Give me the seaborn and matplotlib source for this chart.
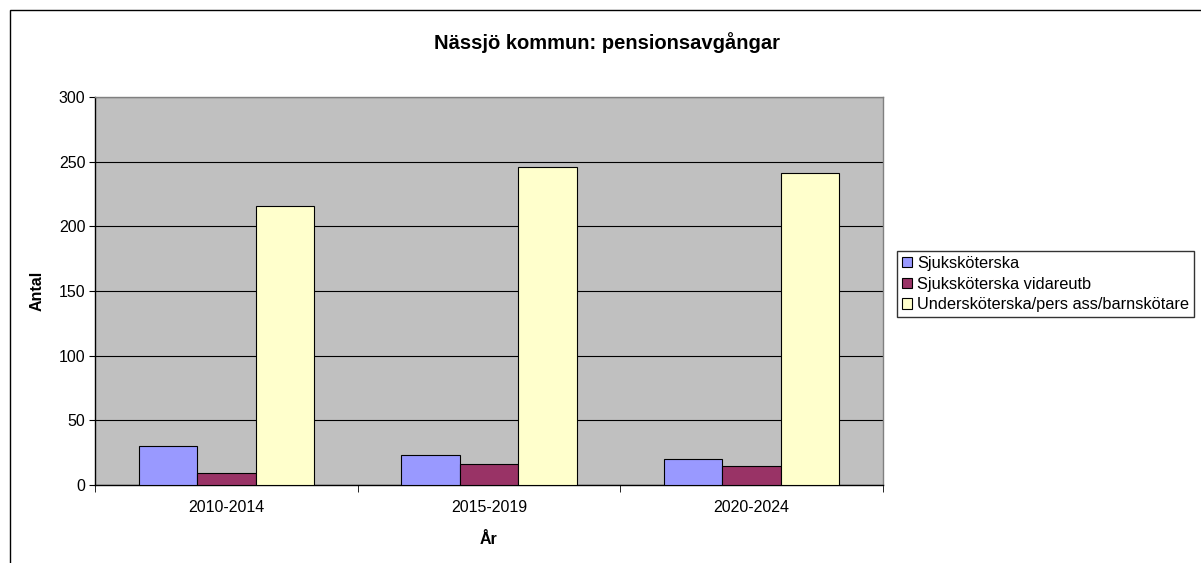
import matplotlib.pyplot as plt
import seaborn as sns
import pandas as pd
from matplotlib.patches import Rectangle, Patch

# data
years = ["2010-2014", "2015-2019", "2020-2024"]
series = ["Sjuksköterska", "Sjuksköterska vidareutb", "Undersköterska/pers ass/barnskötare"]
sjukskoterska = [30, 23, 20]
vidareutb = [9, 16, 15]
underskoterska = [216, 246, 241]
colors = ["#9999FF", "#993366", "#FFFFCC"]

df = pd.DataFrame({
    "År": years * 3,
    "Grupp": [series[0]] * 3 + [series[1]] * 3 + [series[2]] * 3,
    "Antal": sjukskoterska + vidareutb + underskoterska,
})

sns.set_style("white")
plt.rcParams["font.family"] = ["Liberation Sans", "DejaVu Sans"]
for k in ["text.color", "axes.labelcolor", "xtick.color", "ytick.color"]:
    plt.rcParams[k] = "black"

fig = plt.figure(figsize=(12.01, 5.63), dpi=100)
ax = fig.add_axes([95 / 1201, 1 - 485 / 563, 788 / 1201, 388 / 563])
ax.set_facecolor("#C0C0C0")

sns.barplot(data=df, x="År", y="Antal", hue="Grupp", palette=colors,
            saturation=1, width=0.667, edgecolor="black", linewidth=0.8,
            legend=False, ax=ax, zorder=3)

ax.set_ylim(0, 300)
ax.set_xlim(-0.5, 2.5)
ax.set_yticks(range(0, 301, 50))
ax.yaxis.grid(True, color="black", linewidth=0.8, zorder=0)
ax.set_axisbelow(True)
ax.tick_params(axis="y", labelsize=11.5, length=4, direction="out", left=True,
               color="black", pad=3)
ax.tick_params(axis="x", labelsize=11.5, length=0, pad=11)
ax.set_xticks([-0.5, 0.5, 1.5, 2.5], minor=True)
ax.tick_params(axis="x", which="minor", length=5, direction="out", bottom=True, color="black")

for s in ["left", "bottom"]:
    ax.spines[s].set_color("black")
    ax.spines[s].set_linewidth(1)
for s in ["top", "right"]:
    ax.spines[s].set_color("#808080")
    ax.spines[s].set_linewidth(1)

ax.set_xlabel("År", fontsize=11.5, fontweight="bold", labelpad=12)
ax.set_ylabel("Antal", fontsize=11.5, fontweight="bold", labelpad=10)

fig.text(607 / 1201, 1 - 43 / 563, "Nässjö kommun: pensionsavgångar",
         ha="center", va="center", fontsize=14.5, fontweight="bold")

handles = [Patch(facecolor=c, edgecolor="black", linewidth=0.8, label=l)
           for c, l in zip(colors, series)]
leg = fig.legend(handles=handles, loc="upper left",
                 bbox_to_anchor=(897 / 1201, 1 - 251 / 563),
                 fontsize=11.8, frameon=True, fancybox=False,
                 handlelength=0.6, handleheight=0.6, handletextpad=0.35,
                 borderpad=0.3, labelspacing=0.35, borderaxespad=0)
leg.get_frame().set_edgecolor("black")
leg.get_frame().set_linewidth(1)

# outer chart border
fig.patches.append(Rectangle((10 / 1201, -0.1), 1.2, 1.1 - 10 / 563,
                             transform=fig.transFigure, fill=False,
                             edgecolor="black", linewidth=1))

fig.savefig("out.png", dpi=100)
